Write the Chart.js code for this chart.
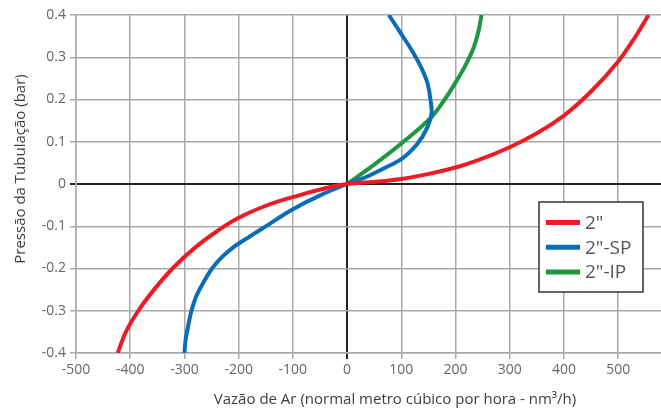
<!DOCTYPE html>
<html>
<head>
<meta charset="utf-8">
<script src="https://cdn.jsdelivr.net/npm/chart.js@4"></script>
<style>
    html, body { margin: 0; padding: 0; background: #fff; }
    #wrap { width: 661px; height: 412px; position: relative; }
</style>
</head>
<body>
<div id="wrap"><canvas id="lineChart"></canvas></div>
<script>
// Dados (vazão em nm³/h, pressão em bar)
const seriesLabels = ['2"', '2"-SP', '2"-IP'];
const seriesColors = ['#ed1c24', '#0b6db7', '#1f9640'];

const vazao2 = [-423, -408, -385, -356, -322, -280, -238, -200, -157, -124, -100, -49, 0, 58, 100, 151, 200, 243, 300, 350, 400, 450, 500, 530, 556];
const pressao2 = [-0.4, -0.35, -0.3, -0.25, -0.2, -0.15, -0.11, -0.08, -0.055, -0.04, -0.031, -0.013, 0, 0.006, 0.012, 0.024, 0.039, 0.057, 0.087, 0.12, 0.162, 0.219, 0.29, 0.345, 0.4];

const vazaoSP = [-300, -298, -293, -287, -278, -265, -249, -230, -210, -184, -157, -100, -50, 0, 34, 71, 100, 129, 148, 156, 154, 148, 135, 120, 98, 77];
const pressaoSP = [-0.4, -0.37, -0.335, -0.3, -0.265, -0.233, -0.2, -0.172, -0.15, -0.128, -0.106, -0.06, -0.027, 0, 0.016, 0.039, 0.059, 0.094, 0.134, 0.173, 0.198, 0.24, 0.28, 0.315, 0.359, 0.4];

const vazaoIP = [0, 50, 104, 156, 180, 200, 218, 234, 243, 248];
const pressaoIP = [0, 0.046, 0.1, 0.159, 0.2, 0.24, 0.28, 0.325, 0.365, 0.4];

const xTicks = [-500, -400, -300, -200, -100, 0, 100, 200, 300, 400, 500];
const yTicks = [-0.4, -0.3, -0.2, -0.1, 0, 0.1, 0.2, 0.3, 0.4];

const xTitle = 'Vazão de Ar (normal metro cúbico por hora - nm³/h)';
const yTitle = 'Pressão da Tubulação (bar)';

function toPoints(xs, ys) {
    return xs.map((x, i) => ({ x: x, y: ys[i] }));
}

const gridColor = '#a9a9a9';
const zeroColor = '#222';

// Legenda e títulos dos eixos desenhados à mão
const extrasPlugin = {
    id: 'extras',
    afterDraw(chart) {
        const ctx = chart.ctx;
        ctx.save();

        // títulos
        ctx.fillStyle = '#3d3d3d';
        ctx.font = '15px "Open Sans"';
        ctx.textAlign = 'center';
        ctx.textBaseline = 'middle';
        ctx.fillText(xTitle, 395, 400);
        ctx.save();
        ctx.translate(21, 169);
        ctx.rotate(-Math.PI / 2);
        ctx.fillText(yTitle, 0, 0);
        ctx.restore();

        // legenda
        ctx.fillStyle = '#fff';
        ctx.fillRect(539, 202, 104, 90);
        ctx.strokeStyle = '#333';
        ctx.lineWidth = 1.5;
        ctx.strokeRect(539, 202, 104, 90);
        ctx.font = '19px "Open Sans"';
        ctx.textAlign = 'left';
        chart.data.datasets.forEach((ds, i) => {
            const y = 222.5 + i * 24.7;
            ctx.strokeStyle = ds.borderColor;
            ctx.lineWidth = 5;
            ctx.beginPath();
            ctx.moveTo(546, y);
            ctx.lineTo(580, y);
            ctx.stroke();
            ctx.fillStyle = '#555';
            ctx.fillText(ds.label, 585, y + 1);
        });
        ctx.restore();
    }
};

const ctx = document.getElementById('lineChart').getContext('2d');

const lineChart = new Chart(ctx, {
    type: 'scatter',
    data: {
        datasets: [
            { label: seriesLabels[0], data: toPoints(vazao2, pressao2), borderColor: seriesColors[0] },
            { label: seriesLabels[1], data: toPoints(vazaoSP, pressaoSP), borderColor: seriesColors[1] },
            { label: seriesLabels[2], data: toPoints(vazaoIP, pressaoIP), borderColor: seriesColors[2] }
        ].map(ds => ({
            ...ds,
            indexAxis: 'y',
            showLine: true,
            borderWidth: 4,
            pointRadius: 0,
            cubicInterpolationMode: 'monotone',
            backgroundColor: ds.borderColor
        }))
    },
    options: {
        responsive: true,
        maintainAspectRatio: false,
        animation: false,
        layout: { padding: { top: 15, right: 0, left: 0, bottom: 0 } },
        plugins: {
            legend: { display: false },
            tooltip: { enabled: false }
        },
        scales: {
            x: {
                type: 'linear',
                min: -500,
                max: 579,
                afterBuildTicks: (scale) => { scale.ticks = xTicks.map(v => ({ value: v })); },
                afterFit: (scale) => { scale.height = 59; },
                ticks: {
                    color: '#666',
                    font: { family: 'Open Sans', size: 14 },
                    padding: 3,
                    maxRotation: 0,
                    callback: (v) => String(v)
                },
                grid: {
                    color: (c) => c.tick && c.tick.value === 0 ? zeroColor : gridColor,
                    lineWidth: (c) => c.tick && c.tick.value === 0 ? 2 : 1.5,
                    tickLength: 6
                },
                border: { color: gridColor, width: 1.5 }
            },
            y: {
                type: 'linear',
                min: -0.4,
                max: 0.4,
                afterBuildTicks: (scale) => { scale.ticks = yTicks.map(v => ({ value: v })); },
                afterFit: (scale) => { scale.width = 76; },
                ticks: {
                    color: '#666',
                    font: { family: 'Open Sans', size: 14 },
                    padding: 4,
                    callback: (v) => String(v)
                },
                grid: {
                    color: (c) => c.tick && c.tick.value === 0 ? zeroColor : gridColor,
                    lineWidth: (c) => c.tick && c.tick.value === 0 ? 2 : 1.5,
                    tickLength: 6
                },
                border: { color: gridColor, width: 1.5 }
            }
        }
    },
    plugins: [extrasPlugin]
});
</script>
</body>
</html>
